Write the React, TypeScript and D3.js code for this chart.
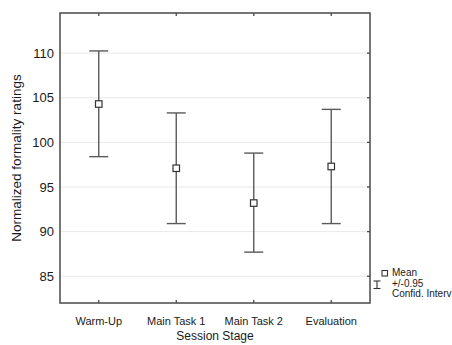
import React from "react";
import * as d3 from "d3";

const categories = ["Warm-Up", "Main Task 1", "Main Task 2", "Evaluation"];
const means = [104.3, 97.1, 93.2, 97.3];
const upper = [110.25, 103.3, 98.8, 103.7];
const lower = [98.4, 90.9, 87.7, 90.9];
const yTicks = [85, 90, 95, 100, 105, 110];

const W = 452;
const H = 345;
const margin = { top: 13, right: 82, bottom: 42, left: 60 };

const App = () => {
  const iw = W - margin.left - margin.right;
  const ih = H - margin.top - margin.bottom;

  const x = d3.scalePoint<string>().domain(categories).range([0, iw]).padding(0.5);
  const y = d3.scaleLinear().domain([82, 114.5]).range([ih, 0]);

  const font = "'Liberation Sans', Arial, sans-serif";
  const frame = "#4a4a4a";
  const bar = "#5a5a5a";
  const cap = 9.5;
  const sq = 6.5;

  return (
    <svg width={W} height={H} style={{ position: "absolute", left: 0, top: 0, fontFamily: font }}>
      <rect width={W} height={H} fill="#fff" />
      <g transform={`translate(${margin.left},${margin.top})`}>
        {yTicks.map((t) => (
          <g key={t}>
            <line x1={0} x2={iw} y1={y(t)} y2={y(t)} stroke="#e8e8e8" strokeWidth={1} />
            <line x1={iw - 3} x2={iw} y1={y(t)} y2={y(t)} stroke={frame} strokeWidth={1.3} />
            <text x={-6} y={y(t)} dy="0.35em" textAnchor="end" fontSize={13} fill="#1a1a1a">
              {t}
            </text>
          </g>
        ))}
        {categories.map((c) => (
          <g key={c}>
            <line x1={x(c)} x2={x(c)} y1={0} y2={3} stroke={frame} strokeWidth={1.3} />
            <line x1={x(c)} x2={x(c)} y1={ih} y2={ih - 3} stroke={frame} strokeWidth={1.3} />
            <text x={x(c)} y={ih + 22} textAnchor="middle" fontSize={11} fill="#1a1a1a">
              {c}
            </text>
          </g>
        ))}
        <rect x={0} y={0} width={iw} height={ih} fill="none" stroke={frame} strokeWidth={1.5} />
        {categories.map((c, i) => {
          const cx = x(c) as number;
          return (
            <g key={c + "-bar"}>
              <line x1={cx} x2={cx} y1={y(upper[i])} y2={y(lower[i])} stroke={bar} strokeWidth={1.4} />
              <line x1={cx - cap} x2={cx + cap} y1={y(upper[i])} y2={y(upper[i])} stroke={bar} strokeWidth={1.4} />
              <line x1={cx - cap} x2={cx + cap} y1={y(lower[i])} y2={y(lower[i])} stroke={bar} strokeWidth={1.4} />
              <rect
                x={cx - sq / 2}
                y={y(means[i]) - sq / 2}
                width={sq}
                height={sq}
                fill="#fff"
                stroke="#333"
                strokeWidth={1.2}
              />
            </g>
          );
        })}
        <text x={iw / 2} y={ih + 37} textAnchor="middle" fontSize={12} fill="#1a1a1a">
          Session Stage
        </text>
      </g>
      <text
        transform={`translate(21,${margin.top + ih / 2}) rotate(-90)`}
        textAnchor="middle"
        fontSize={13.5}
        fill="#1a1a1a"
      >
        Normalized formality ratings
      </text>
      <g fontSize={10} fill="#1a1a1a">
        <rect x={382} y={270.5} width={5.5} height={5.5} fill="#fff" stroke="#333" strokeWidth={1.1} />
        <text x={392} y={276}>Mean</text>
        <line x1={377} x2={377} y1={281} y2={288.5} stroke="#333" strokeWidth={1.1} />
        <line x1={373.5} x2={380.5} y1={281} y2={281} stroke="#333" strokeWidth={1.1} />
        <line x1={373.5} x2={380.5} y1={288.5} y2={288.5} stroke="#333" strokeWidth={1.1} />
        <text x={392} y={286.5}>+/-0.95</text>
        <text x={392} y={297}>Confid. Interv</text>
      </g>
    </svg>
  );
};

export default App;
